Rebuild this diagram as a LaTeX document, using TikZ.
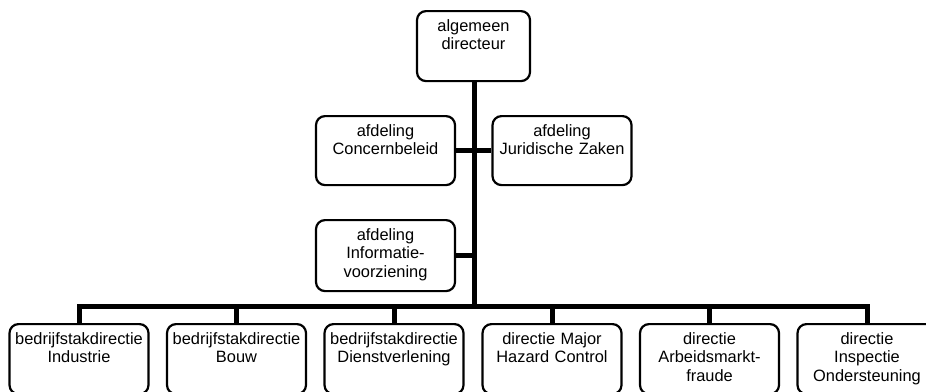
\documentclass[tikz,border=0pt]{standalone}
\usepackage{fontspec}
\setmainfont{Liberation Sans}
\usepackage{tikz}

\begin{document}
\begin{tikzpicture}[x=1pt,y=-1pt]
\tikzset{orgbox/.style={draw=black, line width=2.2pt, rounded corners=9pt, fill=white,
  anchor=north, align=center, text width=130pt, inner xsep=4.5pt, inner ysep=8pt,
  text height=12pt, text depth=42pt, font=\fontsize{16.4}{18.5}\selectfont},
  link/.style={line width=5pt, draw=black}}
\useasboundingbox (0,0) rectangle (926,391);
% top and staff
\node [orgbox, text width=104pt] (top) at (473.5,10) {algemeen\\directeur};
\node [orgbox, text depth=41pt] (concern) at (385.5,115) {afdeling\\Concernbeleid};
\node [orgbox, text depth=41pt] (juridisch) at (562,115) {afdeling\\Juridische Zaken};
\node [orgbox, text depth=43pt] (info) at (385.5,219) {afdeling\\Informatie-\\voorziening};
% trunk and bar
\coordinate (split) at (474,306);
\draw [link] (top.south -| split) -- (split);
\draw [link] (concern.east) -- (juridisch.west);
\draw [link] (info.east) -- (info.east -| split);
% directies
\node [orgbox] (industrie) at (79,323) {bedrijfstakdirectie\\Industrie};
\node [orgbox] (bouw) at (236.5,323) {bedrijfstakdirectie\\Bouw};
\node [orgbox] (dienst) at (394,323) {bedrijfstakdirectie\\Dienstverlening};
\node [orgbox] (hazard) at (552,323) {directie Major\\Hazard Control};
\node [orgbox] (fraude) at (709.5,323) {directie\\Arbeidsmarkt-\\fraude};
\node [orgbox] (inspectie) at (867,323) {directie\\Inspectie\\Ondersteuning};
\draw [link, line cap=rect] (industrie.north |- split) -- (inspectie.north |- split);
\foreach \d in {industrie,bouw,dienst,hazard,fraude,inspectie}
  \draw [link] (\d.north |- split) -- (\d.north);
\end{tikzpicture}
\end{document}
